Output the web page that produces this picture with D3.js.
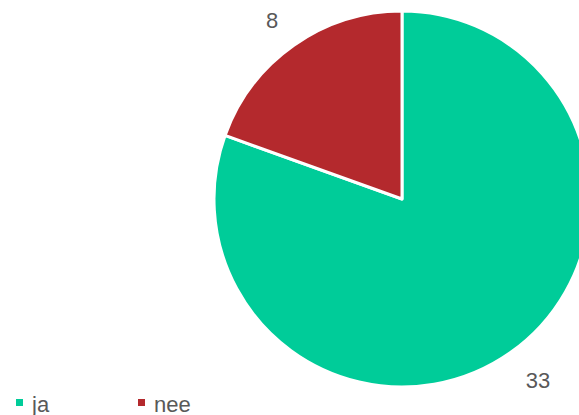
<!DOCTYPE html>
<html><head><meta charset="utf-8">
<script src="https://cdn.jsdelivr.net/npm/d3@7"></script>
<style>body{margin:0;background:#fff;overflow:hidden}</style>
</head><body>
<svg id="c" width="579" height="415"></svg>
<script>
const categories = ["ja", "nee"];
const values = [33, 8];
const colors = ["#00CC99", "#B4292D"];

const svg = d3.select("#c");
const cx = 402, cy = 199, r = 188;
const pie = d3.pie().sort(null).value(d => d.v);
const data = pie(categories.map((c, i) => ({c, v: values[i], col: colors[i]})));
const arc = d3.arc().innerRadius(0).outerRadius(r);
const g = svg.append("g").attr("transform", `translate(${cx},${cy})`);
g.selectAll("path").data(data).join("path")
  .attr("d", arc).attr("fill", d => d.data.col)
  .attr("stroke", "#fff").attr("stroke-width", 3).attr("stroke-linejoin", "round");

const labelPos = [[538, 388], [272, 28]];
svg.selectAll("text.lbl").data(data).join("text").attr("class", "lbl")
  .attr("x", (d, i) => labelPos[i][0]).attr("y", (d, i) => labelPos[i][1])
  .attr("text-anchor", "middle")
  .attr("font-family", "Liberation Sans, Arial, sans-serif")
  .attr("font-size", 22).attr("fill", "#595959")
  .text(d => d.data.v);

const legX = [16, 138];
const leg = svg.selectAll("g.leg").data(categories).join("g").attr("class", "leg")
  .attr("transform", (d, i) => `translate(${legX[i]},399)`);
leg.append("rect").attr("width", 7).attr("height", 7).attr("fill", (d, i) => colors[i]);
leg.append("text").attr("x", 16).attr("y", 13)
  .attr("font-family", "Liberation Sans, Arial, sans-serif")
  .attr("font-size", 22).attr("fill", "#595959").text(d => d);
</script>
</body></html>
